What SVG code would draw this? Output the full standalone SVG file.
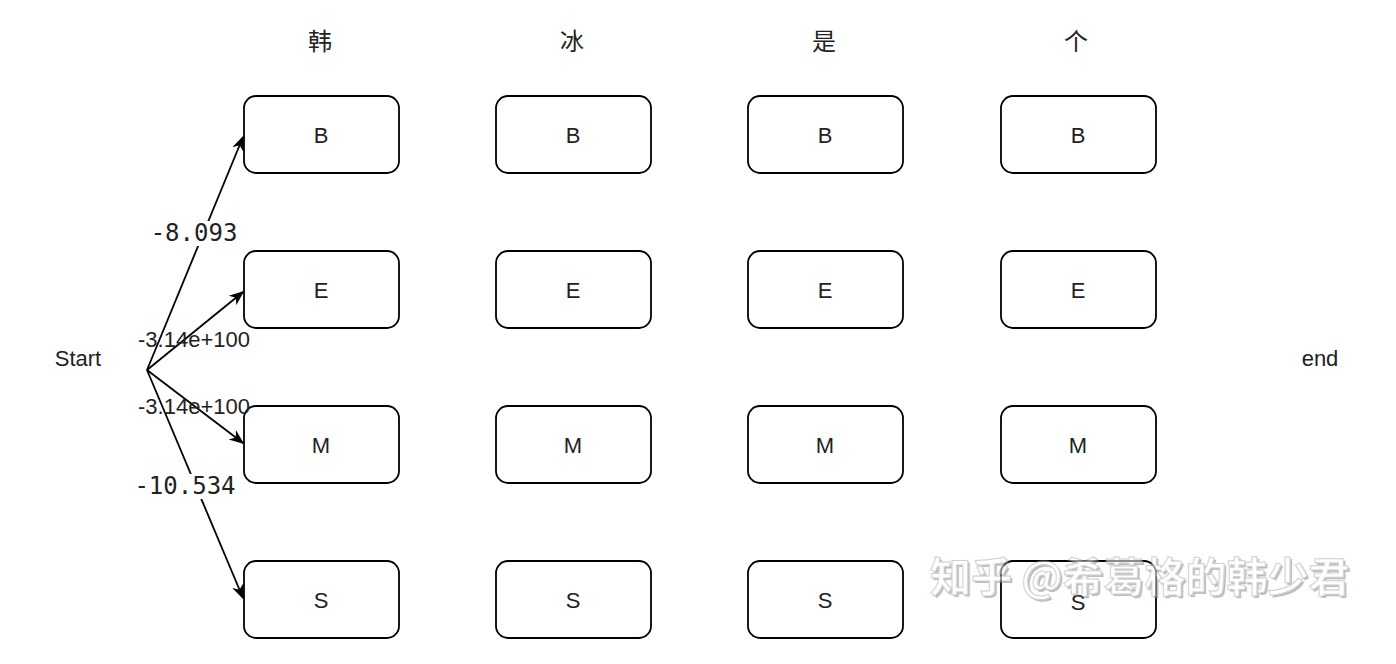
<svg xmlns="http://www.w3.org/2000/svg" width="1396" height="664" viewBox="0 0 1396 664">
<style>
.box{fill:#fff;stroke:#000;stroke-width:1.8}
.lbl{font-family:"Liberation Sans",Arial,sans-serif;font-size:22px;fill:#222;text-anchor:middle}
.hdr{font-family:"Noto Sans CJK SC","Noto Sans",sans-serif;font-size:24px;fill:#222;text-anchor:middle}
.mono{font-family:"DejaVu Sans Mono","Liberation Mono",monospace;font-size:24px;fill:#222;text-anchor:middle}
.edge{stroke:#000;stroke-width:1.8;fill:none;marker-end:url(#arr)}
.wm{font-family:"Noto Sans CJK SC",sans-serif;font-size:41px;font-weight:bold}
</style>
<defs>
<marker id="arr" viewBox="0 0 10 10" refX="9" refY="5" markerWidth="15" markerHeight="15" markerUnits="userSpaceOnUse" orient="auto">
<path d="M0,1 L10,5 L0,9 L3,5 Z" fill="#000"/>
</marker>
</defs>
<rect width="1396" height="664" fill="#fff"/>
<g id="headers">
<text class="hdr" x="320" y="50">韩</text>
<text class="hdr" x="572" y="50">冰</text>
<text class="hdr" x="824" y="50">是</text>
<text class="hdr" x="1076" y="50">个</text>
</g>
<g id="start"><text class="lbl" x="78" y="366">Start</text></g>
<g id="end"><text class="lbl" x="1320" y="366">end</text></g>
<g id="col1">
<g id="B1"><rect class="box" x="244" y="96" width="155" height="77" rx="12"/><text class="lbl" x="321" y="143">B</text></g>
<g id="E1"><rect class="box" x="244" y="251" width="155" height="77" rx="12"/><text class="lbl" x="321" y="298">E</text></g>
<g id="M1"><rect class="box" x="244" y="406" width="155" height="77" rx="12"/><text class="lbl" x="321" y="453">M</text></g>
<g id="S1"><rect class="box" x="244" y="561" width="155" height="77" rx="12"/><text class="lbl" x="321" y="608">S</text></g>
</g>
<g id="col2">
<g id="B2"><rect class="box" x="496" y="96" width="155" height="77" rx="12"/><text class="lbl" x="573" y="143">B</text></g>
<g id="E2"><rect class="box" x="496" y="251" width="155" height="77" rx="12"/><text class="lbl" x="573" y="298">E</text></g>
<g id="M2"><rect class="box" x="496" y="406" width="155" height="77" rx="12"/><text class="lbl" x="573" y="453">M</text></g>
<g id="S2"><rect class="box" x="496" y="561" width="155" height="77" rx="12"/><text class="lbl" x="573" y="608">S</text></g>
</g>
<g id="col3">
<g id="B3"><rect class="box" x="748" y="96" width="155" height="77" rx="12"/><text class="lbl" x="825" y="143">B</text></g>
<g id="E3"><rect class="box" x="748" y="251" width="155" height="77" rx="12"/><text class="lbl" x="825" y="298">E</text></g>
<g id="M3"><rect class="box" x="748" y="406" width="155" height="77" rx="12"/><text class="lbl" x="825" y="453">M</text></g>
<g id="S3"><rect class="box" x="748" y="561" width="155" height="77" rx="12"/><text class="lbl" x="825" y="608">S</text></g>
</g>
<g id="col4">
<g id="B4"><rect class="box" x="1001" y="96" width="155" height="77" rx="12"/><text class="lbl" x="1078" y="143">B</text></g>
<g id="E4"><rect class="box" x="1001" y="251" width="155" height="77" rx="12"/><text class="lbl" x="1078" y="298">E</text></g>
<g id="M4"><rect class="box" x="1001" y="406" width="155" height="77" rx="12"/><text class="lbl" x="1078" y="453">M</text></g>
<g id="S4"><rect class="box" x="1001" y="561" width="155" height="77" rx="12"/><text class="lbl" x="1078" y="610">S</text></g>
</g>
<g id="connectors">
<line class="edge" x1="147" y1="370" x2="243" y2="137"/>
<line class="edge" x1="147" y1="370" x2="243" y2="292"/>
<line class="edge" x1="147" y1="370" x2="243" y2="443"/>
<line class="edge" x1="147" y1="370" x2="243" y2="598"/>
<rect x="148" y="221" width="92" height="25" fill="#fff"/>
<text class="mono" x="194" y="241">-8.093</text>
<rect x="131" y="474" width="109" height="25" fill="#fff"/>
<text class="mono" x="185" y="494">-10.534</text>
<text class="lbl" x="194" y="347">-3.14e+100</text>
<text class="lbl" x="194" y="414">-3.14e+100</text>
</g>
<g id="watermark" opacity="0.55">
<text class="wm" x="932" y="594" fill="#888">知乎 @希葛格的韩少君</text>
<text class="wm" x="930" y="592" fill="#fff" stroke="#aaa" stroke-width="1">知乎 @希葛格的韩少君</text>
</g>
</svg>
